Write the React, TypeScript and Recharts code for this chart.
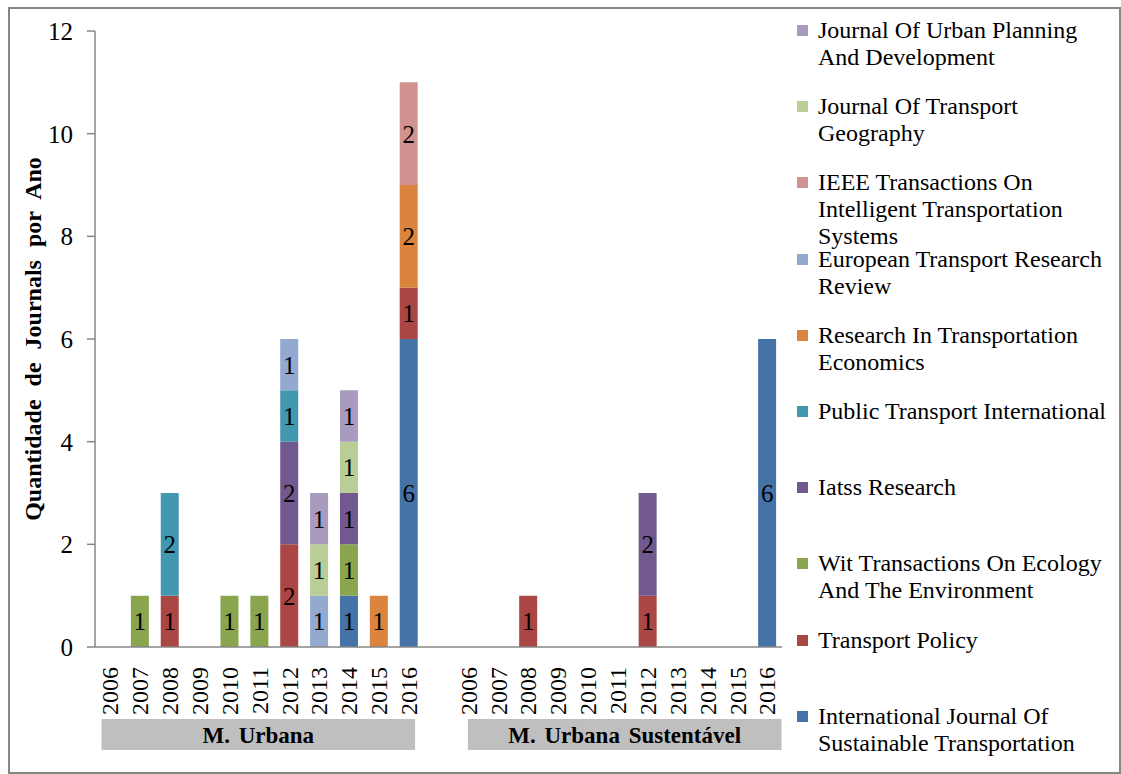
import { Bar, BarChart, Label, LabelList, XAxis, YAxis } from "recharts";

const YEARS = ["2006", "2007", "2008", "2009", "2010", "2011", "2012", "2013", "2014", "2015", "2016"];
const GROUPS = ["M. Urbana", "M. Urbana Sustentável"];

// stack order, bottom to top
const SERIES_KEYS = ["ijst", "tp", "wit", "iatss", "pti", "rte", "etrr", "ieee", "jtg", "jupd"];
const SERIES_NAMES = [
  "International Journal Of Sustainable Transportation",
  "Transport Policy",
  "Wit Transactions On Ecology And The Environment",
  "Iatss Research",
  "Public Transport International",
  "Research In Transportation Economics",
  "European Transport Research Review",
  "IEEE Transactions On Intelligent Transportation Systems",
  "Journal Of Transport Geography",
  "Journal Of Urban Planning And Development",
];
const LEGEND_LINES = [
  ["International Journal Of", "Sustainable Transportation"],
  ["Transport Policy"],
  ["Wit Transactions On Ecology", "And The Environment"],
  ["Iatss Research"],
  ["Public Transport International"],
  ["Research In Transportation", "Economics"],
  ["European Transport Research", "Review"],
  ["IEEE Transactions On", "Intelligent Transportation", "Systems"],
  ["Journal Of Transport", "Geography"],
  ["Journal Of Urban Planning", "And Development"],
];

// values per year 2006..2016, for M. Urbana / M. Urbana Sustentável
const URBANA: Record<string, number[]> = {
  ijst: [0, 0, 0, 0, 0, 0, 0, 0, 1, 0, 6],
  tp: [0, 0, 1, 0, 0, 0, 2, 0, 0, 0, 1],
  wit: [0, 1, 0, 0, 1, 1, 0, 0, 1, 0, 0],
  iatss: [0, 0, 0, 0, 0, 0, 2, 0, 1, 0, 0],
  pti: [0, 0, 2, 0, 0, 0, 1, 0, 0, 0, 0],
  rte: [0, 0, 0, 0, 0, 0, 0, 0, 0, 1, 2],
  etrr: [0, 0, 0, 0, 0, 0, 1, 1, 0, 0, 0],
  ieee: [0, 0, 0, 0, 0, 0, 0, 0, 0, 0, 2],
  jtg: [0, 0, 0, 0, 0, 0, 0, 1, 1, 0, 0],
  jupd: [0, 0, 0, 0, 0, 0, 0, 1, 1, 0, 0],
};
const SUSTENTAVEL: Record<string, number[]> = {
  ijst: [0, 0, 0, 0, 0, 0, 0, 0, 0, 0, 6],
  tp: [0, 0, 1, 0, 0, 0, 1, 0, 0, 0, 0],
  wit: [0, 0, 0, 0, 0, 0, 0, 0, 0, 0, 0],
  iatss: [0, 0, 0, 0, 0, 0, 2, 0, 0, 0, 0],
  pti: [0, 0, 0, 0, 0, 0, 0, 0, 0, 0, 0],
  rte: [0, 0, 0, 0, 0, 0, 0, 0, 0, 0, 0],
  etrr: [0, 0, 0, 0, 0, 0, 0, 0, 0, 0, 0],
  ieee: [0, 0, 0, 0, 0, 0, 0, 0, 0, 0, 0],
  jtg: [0, 0, 0, 0, 0, 0, 0, 0, 0, 0, 0],
  jupd: [0, 0, 0, 0, 0, 0, 0, 0, 0, 0, 0],
};
const Y_TICKS = [0, 2, 4, 6, 8, 10, 12];

const COLORS: Record<string, string> = {
  ijst: "#4572A7",
  tp: "#AA4643",
  wit: "#89A54E",
  iatss: "#71588F",
  pti: "#4198AF",
  rte: "#DB843D",
  etrr: "#93A9CF",
  ieee: "#D19392",
  jtg: "#B9CD96",
  jupd: "#A99BBD",
};

const FONT = "'Liberation Serif', 'Times New Roman', serif";
const AXIS_GRAY = "#868686";

type Row = { key: string; year: string; [k: string]: string | number | undefined };

function buildRows(group: string, values: Record<string, number[]>): Row[] {
  return YEARS.map((year, i) => {
    const row: Row = { key: `${group}|${year}`, year };
    SERIES_KEYS.forEach((k) => {
      row[k] = values[k][i] || undefined;
    });
    return row;
  });
}

const data: Row[] = [
  ...buildRows(GROUPS[0], URBANA),
  { key: "gap", year: "" },
  ...buildRows(GROUPS[1], SUSTENTAVEL),
];

const CHART_W = 1109;
const CHART_H = 763;
const MARGIN = { top: 22, right: 337, left: 0, bottom: 21 };
const Y_W = 85;
const BAND = (CHART_W - MARGIN.left - MARGIN.right - Y_W) / data.length;
const GROUP_MID = [`${GROUPS[0]}|2011`, `${GROUPS[1]}|2011`];
const GROUP_SHIFT = [-1, 7];

function YearTick(props: any) {
  const { x, y, payload } = props;
  const label = String(payload.value).split("|")[1] ?? "";
  return (
    <text
      x={x}
      y={y}
      transform={`rotate(-90, ${x}, ${y})`}
      textAnchor="end"
      dy="0.35em"
      fontFamily={FONT}
      fontSize={24}
      fill="#000"
    >
      {label}
    </text>
  );
}

function GroupTick(props: any) {
  const { x, y, payload } = props;
  const gi = GROUP_MID.indexOf(payload.value);
  if (gi < 0) return null;
  const w = 10.5 * BAND;
  const cx = x + GROUP_SHIFT[gi];
  return (
    <g>
      <rect x={cx - w / 2} y={y} width={w} height={31} fill="#BFBFBF" />
      <text
        x={cx}
        y={y + 16}
        textAnchor="middle"
        dominantBaseline="central"
        fontFamily={FONT}
        fontSize={23}
        fontWeight="bold"
        wordSpacing={3}
        fill="#000"
      >
        {GROUPS[gi]}
      </text>
    </g>
  );
}

function YTitle(props: any) {
  const { viewBox } = props;
  const cx = viewBox.x + 23;
  const cy = viewBox.y + viewBox.height / 2;
  return (
    <text
      x={cx}
      y={cy}
      transform={`rotate(-90, ${cx}, ${cy})`}
      textAnchor="middle"
      dominantBaseline="central"
      fontFamily={FONT}
      fontSize={24}
      fontWeight="bold"
      wordSpacing={7}
      fill="#000"
    >
      Quantidade de Journals por Ano
    </text>
  );
}

function ChartLegend() {
  const order = SERIES_KEYS.map((_, i) => i).reverse();
  return (
    <div>
      {order.map((si, pos) => (
        <div
          key={SERIES_KEYS[si]}
          title={SERIES_NAMES[si]}
          style={{
            position: "absolute",
            left: 787,
            top: 8 + pos * 76.2,
            fontFamily: FONT,
            fontSize: 24,
            lineHeight: "27px",
            color: "#000",
            whiteSpace: "nowrap",
          }}
        >
          <span
            style={{
              position: "absolute",
              left: 0,
              top: 8,
              width: 11,
              height: 11,
              background: COLORS[SERIES_KEYS[si]],
            }}
          />
          <div style={{ paddingLeft: 21 }}>
            {LEGEND_LINES[si].map((line) => (
              <div key={line}>{line}</div>
            ))}
          </div>
        </div>
      ))}
    </div>
  );
}

export default function App() {
  return (
    <div
      style={{
        position: "absolute",
        left: 8,
        top: 7,
        width: 1113,
        height: 767,
        boxSizing: "border-box",
        border: `2px solid ${AXIS_GRAY}`,
        background: "#fff",
        overflow: "hidden",
      }}
    >
      <BarChart width={CHART_W} height={CHART_H} data={data} margin={MARGIN} barSize={18}>
        <YAxis
          width={Y_W}
          domain={[0, 12]}
          ticks={Y_TICKS}
          interval={0}
          tick={{ fontSize: 25, fill: "#000", fontFamily: FONT }}
          tickSize={8}
          tickMargin={14}
          axisLine={{ stroke: AXIS_GRAY, strokeWidth: 1.5 }}
          tickLine={{ stroke: AXIS_GRAY, strokeWidth: 1.5 }}
        >
          <Label content={YTitle} />
        </YAxis>
        <XAxis
          dataKey="key"
          interval={0}
          height={72}
          tick={<YearTick />}
          tickSize={0}
          tickMargin={20}
          axisLine={{ stroke: AXIS_GRAY, strokeWidth: 1.5 }}
          tickLine={false}
        />
        <XAxis
          xAxisId="grp"
          dataKey="key"
          interval={0}
          height={32}
          tick={<GroupTick />}
          tickSize={0}
          tickMargin={0}
          axisLine={false}
          tickLine={false}
        />
        {SERIES_KEYS.map((k, i) => (
          <Bar
            key={k}
            dataKey={k}
            name={SERIES_NAMES[i]}
            stackId="a"
            fill={COLORS[k]}
            isAnimationActive={false}
          >
            <LabelList
              dataKey={k}
              position="center"
              formatter={(v: any) => (v ? v : "")}
              fontSize={25}
              fontFamily={FONT}
              fill="#000"
            />
          </Bar>
        ))}
      </BarChart>
      <ChartLegend />
    </div>
  );
}
